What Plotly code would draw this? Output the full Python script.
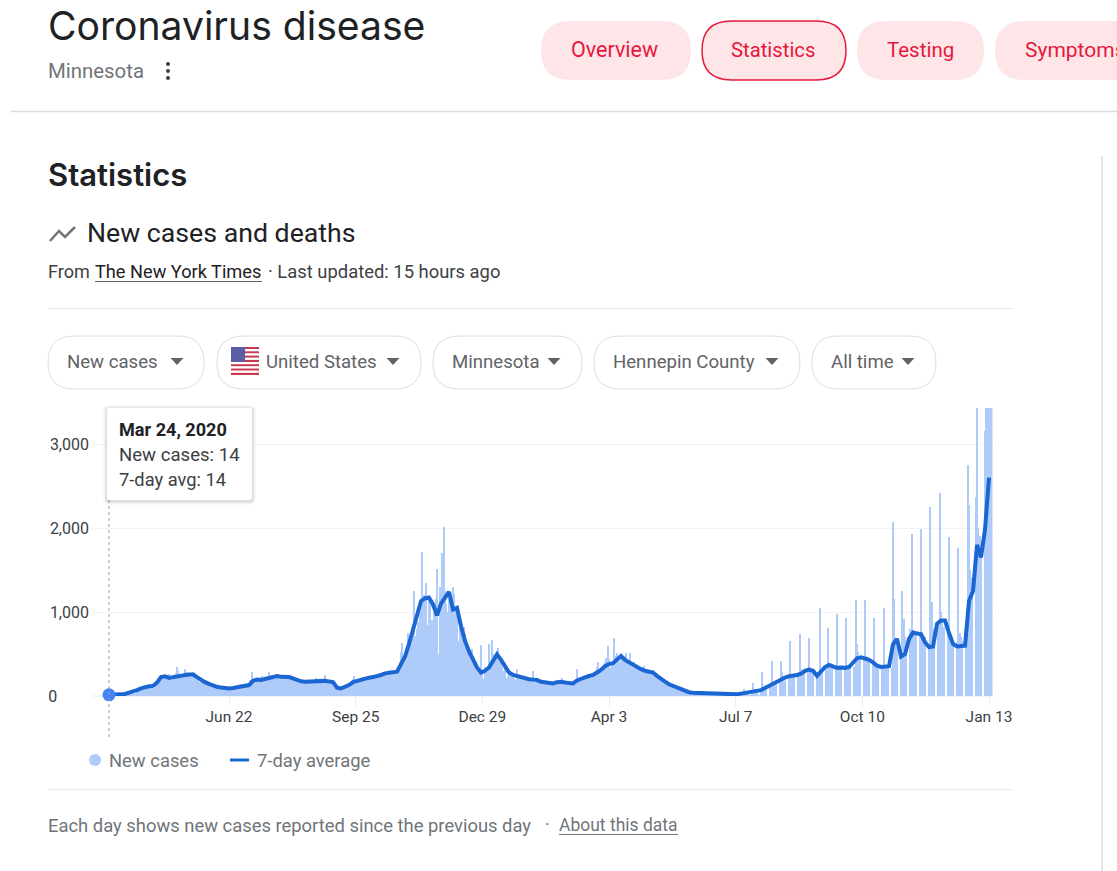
import pandas as pd
import plotly.graph_objects as go

W, H = 1117, 871

# daily new cases, one row per week (Tue..Mon), from Mar 24 2020
new_cases = [
    14, 15, 12, 18, 20, 10, 12,
    15, 20, 18, 22, 14, 12, 16,
    24, 30, 38, 45, 40, 28, 30,
    60, 70, 85, 95, 80, 70, 75,
    100, 125, 130, 110, 105, 90, 95,
    130, 150, 180, 210, 250, 240, 230,
    220, 250, 230, 260, 210, 190, 200,
    230, 270, 340, 300, 250, 215, 230,
    260, 320, 290, 280, 250, 230, 240,
    240, 230, 220, 210, 190, 170, 170,
    170, 190, 160, 150, 130, 125, 125,
    125, 140, 120, 110, 100, 90, 95,
    95, 105, 95, 90, 80, 70, 85,
    90, 105, 100, 115, 90, 80, 100,
    115, 130, 120, 130, 110, 105, 115,
    120, 190, 280, 210, 170, 160, 180,
    190, 200, 230, 240, 190, 180, 200,
    210, 290, 250, 240, 220, 200, 220,
    240, 260, 250, 240, 230, 210, 220,
    225, 240, 230, 250, 210, 200, 210,
    200, 215, 195, 180, 170, 160, 170,
    170, 190, 185, 175, 160, 150, 165,
    180, 210, 195, 190, 175, 165, 175,
    185, 250, 190, 180, 170, 160, 165,
    170, 165, 120, 90, 80, 90, 85,
    100, 120, 130, 140, 120, 115, 130,
    165, 200, 240, 190, 180, 175, 190,
    195, 230, 220, 215, 205, 200, 210,
    220, 240, 225, 230, 215, 210, 225,
    240, 265, 290, 270, 250, 245, 260,
    270, 310, 300, 290, 275, 265, 280,
    300, 400, 520, 635, 480, 440, 500,
    754, 650, 700, 640, 680, 1250, 720,
    800, 880, 980, 1050, 1718, 1200, 1100,
    1350, 850, 1200, 1100, 900, 850, 1000,
    1150, 1508, 500, 1300, 1100, 1700, 2012,
    1250, 1100, 1000, 1150, 1200, 1050, 1300,
    1210, 1050, 1000, 650, 900, 800, 850,
    820, 750, 680, 600, 580, 500, 560,
    480, 430, 400, 350, 330, 280, 607,
    260, 200, 350, 330, 280, 615, 400,
    667, 500, 420, 460, 380, 567, 400,
    430, 350, 300, 330, 220, 240, 260,
    260, 250, 240, 210, 195, 317, 210,
    215, 240, 220, 200, 180, 185, 200,
    200, 210, 220, 297, 170, 165, 180,
    180, 185, 170, 165, 150, 145, 150,
    150, 160, 155, 145, 135, 130, 140,
    150, 165, 180, 190, 218, 140, 150,
    150, 160, 155, 145, 135, 130, 150,
    180, 317, 200, 190, 180, 175, 215,
    225, 240, 260, 245, 235, 215, 250,
    260, 300, 340, 405, 300, 270, 290,
    340, 400, 450, 595, 440, 330, 380,
    420, 694, 480, 510, 460, 400, 450,
    440, 480, 470, 516, 430, 420, 516,
    400, 380, 400, 360, 330, 320, 340,
    320, 340, 360, 310, 280, 270, 290,
    280, 300, 310, 280, 250, 240, 250,
    220, 230, 200, 180, 165, 150, 170,
    140, 150, 140, 120, 100, 95, 110,
    90, 95, 85, 70, 60, 55, 65,
    55, 60, 45, 40, 32, 30, 40,
    38, 40, 45, 38, 30, 28, 35,
    30, 32, 30, 26, 20, 18, 24,
    22, 24, 22, 20, 16, 14, 18,
    20, 25, 22, 20, 14, 12, 18,
    22, 28, 20, 18, 10, 8, 16,
    85, 35, 30, 30, 8, 6, 32,
    160, 70, 60, 55, 5, 5, 70,
    290, 110, 100, 90, 0, 0, 110,
    420, 140, 170, 150, 0, 0, 150,
    420, 290, 230, 180, 0, 0, 230,
    660, 260, 250, 240, 0, 0, 250,
    735, 320, 300, 270, 0, 0, 280,
    695, 320, 300, 290, 0, 0, 280,
    230, 1050, 300, 320, 0, 0, 340,
    815, 350, 330, 340, 0, 0, 340,
    980, 360, 350, 320, 0, 0, 330,
    930, 370, 340, 330, 0, 0, 350,
    1143, 620, 520, 440, 0, 0, 450,
    1143, 480, 460, 430, 0, 0, 420,
    925, 380, 350, 340, 0, 0, 340,
    1050, 350, 340, 330, 0, 0, 330,
    2075, 1150, 650, 620, 0, 0, 600,
    1250, 920, 700, 640, 0, 0, 800,
    1925, 780, 760, 740, 0, 0, 720,
    1984, 760, 720, 700, 0, 0, 580,
    2250, 1120, 800, 760, 0, 0, 860,
    2420, 1000, 880, 820, 0, 0, 760,
    1890, 680, 640, 620, 0, 0, 640,
    1765, 750, 700, 650, 0, 0, 680,
    2755, 2270, 1500, 1400, 0, 0, 2370,
    3700, 2000, 1900, 1800, 0, 0, 3150,
    3700, 3700, 3700, 3700, 3700,
]

# 7-day average, read every third day
avg_cases = [
    14, 15, 16, 18, 25, 40, 50, 70, 90, 105, 115, 120, 160, 225, 235, 215, 220, 235, 240, 250,
    260, 258, 225, 190, 165, 145, 125, 110, 100, 92, 90, 95, 105, 118, 122, 130, 180, 195, 190, 205,
    220, 235, 238, 228, 225, 225, 210, 190, 175, 170, 172, 178, 185, 187, 180, 172, 165, 100, 90, 110,
    130, 165, 180, 195, 205, 218, 225, 235, 250, 270, 280, 285, 290, 380, 470, 620, 795, 960, 1130, 1165,
    1170, 1090, 960, 1100, 1180, 1240, 1030, 1050, 830, 655, 530, 430, 340, 280, 300, 340, 430, 496, 430, 350,
    280, 250, 235, 222, 215, 200, 195, 190, 170, 160, 150, 150, 165, 170, 160, 152, 150, 185, 210, 222,
    238, 250, 280, 310, 355, 380, 390, 440, 476, 430, 400, 377, 350, 320, 300, 290, 278, 240, 200, 170,
    140, 120, 95, 78, 60, 45, 40, 38, 38, 35, 28, 26, 22, 20, 20, 20, 18, 20, 28, 35,
    48, 55, 62, 70, 95, 120, 150, 180, 200, 220, 235, 240, 250, 265, 300, 315, 300, 240, 285, 345,
    370, 350, 335, 340, 335, 345, 390, 450, 460, 450, 430, 400, 360, 345, 350, 355, 615, 680, 470, 500,
    680, 755, 745, 735, 640, 583, 590, 860, 900, 900, 750, 620, 590, 590, 600, 1130, 1250, 1800, 1650, 1984,
    2600,
]

x_ticks = ["2020-06-22", "2020-09-25", "2020-12-29", "2021-04-03", "2021-07-07", "2021-10-10", "2022-01-13"]
x_labels = ["Jun 22", "Sep 25", "Dec 29", "Apr 3", "Jul 7", "Oct 10", "Jan 13"]
y_ticks = [0, 1000, 2000, 3000]
y_labels = ["0", "1,000", "2,000", "3,000"]

dates = pd.date_range("2020-03-24", periods=len(new_cases), freq="D")
avg_dates = pd.date_range("2020-03-24", periods=len(avg_cases), freq="3D")

RED = "#e8173c"
PINK = "#fee6e8"
BORDER = "#dadce0"
SANS = "Roboto"


def px(x):
    return x / W


def py(y):
    return 1 - y / H


def label(text, x, y, size, color, font=SANS, anchor="left", weight=None):
    return dict(text=text, x=px(x), y=py(y), xref="paper", yref="paper", showarrow=False,
                xanchor=anchor, yanchor="middle", borderpad=0, borderwidth=0,
                font=dict(family=font, size=size, color=color, weight=weight))


def rule(x0, y0, x1, y1, color=BORDER, width=1, dash=None, layer="above"):
    return dict(type="line", xref="paper", yref="paper", x0=px(x0), y0=py(y0), x1=px(x1), y1=py(y1),
                line=dict(color=color, width=width, dash=dash), layer=layer)


def rounded(x0, y0, x1, y1, r, fill, line=None, width=0):
    p = (f"M {px(x0 + r)} {py(y0)} L {px(x1 - r)} {py(y0)} Q {px(x1)} {py(y0)} {px(x1)} {py(y0 + r)} "
         f"L {px(x1)} {py(y1 - r)} Q {px(x1)} {py(y1)} {px(x1 - r)} {py(y1)} "
         f"L {px(x0 + r)} {py(y1)} Q {px(x0)} {py(y1)} {px(x0)} {py(y1 - r)} "
         f"L {px(x0)} {py(y0 + r)} Q {px(x0)} {py(y0)} {px(x0 + r)} {py(y0)} Z")
    return dict(type="path", path=p, xref="paper", yref="paper", fillcolor=fill,
                line=dict(color=line or fill, width=width), layer="above")


def dot(x, y, r, color):
    return dict(type="circle", xref="paper", yref="paper", x0=px(x - r), y0=py(y - r), x1=px(x + r), y1=py(y + r),
                fillcolor=color, line=dict(width=0), layer="above")


def caret(x, y):
    p = f"M {px(x - 6.5)} {py(y - 3)} L {px(x + 6.5)} {py(y - 3)} L {px(x)} {py(y + 4)} Z"
    return dict(type="path", path=p, xref="paper", yref="paper", fillcolor="#5f6368", line=dict(width=0), layer="above")


fig = go.Figure()
fig.add_trace(go.Bar(x=dates, y=new_cases, name="New cases", marker=dict(color="#aecbfa", line=dict(width=0)),
                     showlegend=False))
fig.add_trace(go.Scatter(x=avg_dates, y=avg_cases, name="7-day average", mode="lines",
                         line=dict(color="#1a66d2", width=4), showlegend=False))
fig.add_trace(go.Scatter(x=dates[:1], y=new_cases[:1], mode="markers", marker=dict(color="#4285f4", size=13),
                         cliponaxis=False, showlegend=False))

shapes = []
annotations = []

# header
annotations.append(label("Coronavirus disease", 48, 26, 39.1, "#202124", font="Inter"))
annotations.append(label("Minnesota", 48, 71, 20.4, "#70757a"))
for y in (64, 71, 78):
    shapes.append(dot(168, y, 2, "#3c4043"))
shapes.append(rule(11, 111.5, W, 111.5, width=1.5))
for x0, x1, name, text_x, size in [
    (541, 691, "Overview", 571, 21.5),
    (702, 846, "Statistics", 731, 20.3),
    (857, 984, "Testing", 887, 20.5),
    (995, 1170, "Symptoms", 1025, 21),
]:
    outlined = name == "Statistics"
    shapes.append(rounded(x0, 21, x1, 80, 29.5, PINK, RED if outlined else None, 1.5 if outlined else 0))
    annotations.append(label(name, text_x, 50, size, RED))

shapes.append(rule(1102, 156, 1102, H, width=1.5))

# section headings
annotations.append(label("Statistics", 48, 175, 31, "#202124", font="Inter", weight=600))
shapes.append(dict(type="path", xref="paper", yref="paper", layer="above", line=dict(color="#70757a", width=2.5),
                   path=f"M {px(50)} {py(241)} L {px(59)} {py(231)} L {px(65)} {py(237)} L {px(75)} {py(227)}"))
annotations.append(label("New cases and deaths", 87, 233, 26.7, "#202124"))
annotations.append(label("From", 48, 272, 18, "#3c4043"))
annotations.append(label("The New York Times", 95, 272, 18.2, "#202124"))
annotations.append(label("· Last updated: 15 hours ago", 268, 272, 18.4, "#3c4043"))
shapes.append(rule(95, 281.5, 262, 281.5, color="#5f6368"))
shapes.append(rule(48, 308.5, 1013, 308.5, color="#e8eaed"))

# filter chips
for x0, x1, text, text_x, caret_x in [
    (48, 204, "New cases", 67, 177),
    (217, 421, "United States", 266, 393),
    (433, 582, "Minnesota", 452, 554),
    (594, 800, "Hennepin County", 613, 772),
    (812, 936, "All time", 831, 908),
]:
    shapes.append(rounded(x0, 336, x1, 389, 26.5, "#ffffff", BORDER, 1))
    annotations.append(label(text, text_x, 362, 18.6, "#5f6368"))
    shapes.append(caret(caret_x, 361))

# flag
for i in range(13):
    color = "#c8384f" if i % 2 == 0 else "#ffffff"
    y0 = 347 + i * 28 / 13
    shapes.append(dict(type="rect", xref="paper", yref="paper", x0=px(231), x1=px(259), y0=py(y0), y1=py(y0 + 28 / 13),
                       fillcolor=color, line=dict(width=0), layer="above"))
shapes.append(dict(type="rect", xref="paper", yref="paper", x0=px(231), x1=px(245), y0=py(347), y1=py(362),
                   fillcolor="#5b5ea6", line=dict(width=0), layer="above"))

# hover guide and tooltip
shapes.append(dict(type="line", xref="x", yref="paper", x0=dates[0], x1=dates[0], y0=py(500), y1=py(738),
                   line=dict(color="#9aa0a6", width=1, dash="dot"), layer="above"))
for grow, alpha in [(4, 0.03), (3, 0.04), (2, 0.05), (1, 0.07)]:
    shapes.append(rounded(107 - grow, 408 - grow + 1, 252 + grow, 500 + grow + 1, 2 + grow, f"rgba(60,64,67,{alpha})"))
shapes.append(rounded(107, 408, 252, 500, 2, "#ffffff"))
annotations.append(label("Mar 24, 2020", 119, 430, 18.1, "#202124", weight=700))
annotations.append(label("New cases: 14", 119, 455, 18.6, "#3c4043"))
annotations.append(label("7-day avg: 14", 119, 479, 18.3, "#3c4043"))

# legend
shapes.append(dot(95, 760, 6, "#aecbfa"))
annotations.append(label("New cases", 109, 760, 18.4, "#70757a"))
shapes.append(rule(230, 760, 249, 760, color="#1a66d2", width=3))
annotations.append(label("7-day average", 257, 760, 18.4, "#70757a"))

# footer
shapes.append(rule(48, 789.5, 1013, 789.5, color="#e8eaed"))
annotations.append(label("Each day shows new cases reported since the previous day", 48, 825, 18.4, "#70757a"))
annotations.append(label("·", 545, 825, 17.5, "#70757a"))
annotations.append(label("About this data", 559, 825, 17.5, "#70757a"))
shapes.append(rule(559, 834.5, 678, 834.5, color="#70757a"))

fig.update_layout(
    width=W, height=H, autosize=False,
    margin=dict(l=0, r=0, t=0, b=0, pad=0, autoexpand=False),
    paper_bgcolor="white", plot_bgcolor="white",
    bargap=0, showlegend=False,
    font=dict(family=SANS, color="#3c4043"),
    shapes=shapes, annotations=annotations,
    xaxis=dict(
        domain=[px(92), px(992.5)], type="date", automargin=False,
        range=["2020-03-11 06:00", "2022-01-15 14:24"],
        tickmode="array", tickvals=x_ticks, ticktext=x_labels,
        ticks="outside", ticklen=9, tickcolor="#e8eaed", tickwidth=1, ticklabelstandoff=-3,
        tickfont=dict(size=15.5, color="#3c4043"),
        showgrid=False, showline=False, zeroline=False,
    ),
    yaxis=dict(
        domain=[py(696), py(408)], range=[0, 3428.6], automargin=False,
        tickmode="array", tickvals=y_ticks, ticklabelstandoff=2,
        ticktext=[t + "\u00a0" * (8 if t == "0" else 0) for t in y_labels],
        tickfont=dict(size=16, color="#3c4043"),
        gridcolor="#f1f3f4", gridwidth=1, zeroline=True, zerolinecolor="#f1f3f4",
        showline=False, ticks="",
    ),
)

fig.write_html("out.html", config={"displayModeBar": False},
               post_script="document.documentElement.style.overflow='hidden';document.body.style.margin='0';document.body.style.overflow='hidden';")
